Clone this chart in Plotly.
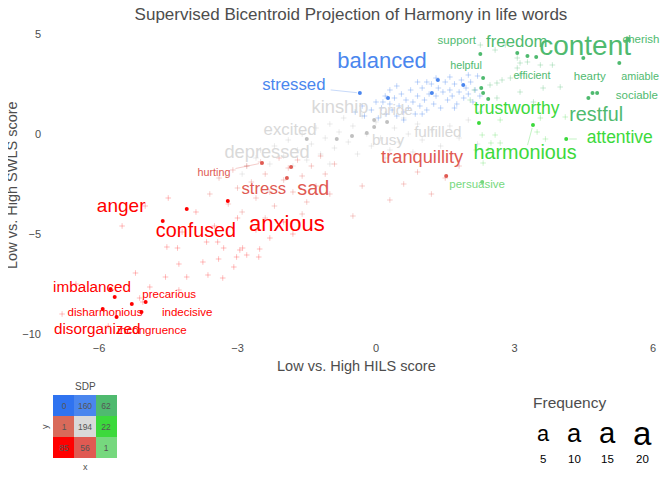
import math
import plotly.graph_objects as go

TITLE = "Supervised Bicentroid Projection of Harmony in life words"
X_TITLE = "Low vs. High HILS score"
Y_TITLE = "Low vs. High SWLS score"
x_ticks = [-6, -3, 0, 3, 6]
y_ticks = [-10, -5, 0, 5]

# ---------------- background (unlabelled) words by SDP cell ----------------
blue_x = [-0.45, -0.3, -0.25, -0.1, 0.0, 0.05, 0.12, 0.2, 0.22, 0.3, 0.35, 0.4, 0.45, 0.5, 0.55, 0.6, 0.65, 0.7,
          0.75, 0.8, 0.85, 0.9, 0.95, 1.0, 1.05, 1.1, 1.15, 1.2, 1.25, 1.3, 1.35, 1.4, 1.45, 1.5, 1.55, 1.6, 1.65,
          1.7, 1.75, 1.8, 1.85, 1.9, 1.95, 2.0, 2.05, 2.1, 2.15, 2.2, 2.25, 0.3, 0.9, 1.3, 0.6, 1.0, 1.7, 2.0,
          0.15, 0.45, 1.1, 1.6]
blue_y = [1.1, 1.4, 0.9, 1.2, 1.6, 0.8, 1.3, 1.9, 1.0, 1.5, 1.2, 1.8, 0.9, 1.4, 2.0, 1.1, 1.7, 1.3, 2.2, 1.6, 1.0,
          1.9, 1.4, 2.3, 1.7, 1.2, 2.0, 2.5, 1.5, 1.9, 2.3, 1.3, 2.1, 2.6, 1.7, 2.2, 1.9, 2.5, 1.5, 2.1, 2.7, 1.8,
          2.3, 2.0, 2.6, 1.6, 2.2, 2.9, 1.9, 2.2, 2.6, 2.8, 0.7, 1.0, 1.3, 2.95, 1.6, 2.4, 2.6, 2.85]

gray_x = [-2.8, -2.6, -2.5, -2.3, -2.2, -2.0, -1.9, -1.8, -1.7, -1.6, -1.5, -1.4, -1.3, -1.2, -1.1, -1.0, -0.9,
          -0.8, -0.7, -0.6, -0.5, -0.4, -0.3, -0.2, -0.1, 0.0, 0.1, 0.2, 0.3, 0.4, 0.5, 0.6, 0.7, 0.8, 0.9, 1.0,
          1.2, 1.4, 1.6, 1.8, 2.0, 2.2, -2.9, -1.0, 0.2]
gray_y = [-1.6, -1.2, -0.8, -1.5, -0.6, -1.1, -0.3, -1.6, -0.8, 0.0, -1.3, -0.5, 0.3, -1.0, -0.2, 0.5, -0.7, 0.1,
          0.8, -0.4, 0.4, -1.0, 0.9, 0.0, -0.6, 0.6, -0.2, 1.0, -0.8, 0.3, -0.4, 0.8, 0.0, -0.9, 0.5, -0.3, 0.2,
          -0.6, 0.4, -0.2, 0.7, -0.5, -2.0, -1.5, -1.2]

salmon_x = [-3.6, -3.4, -3.2, -3.1, -3.0, -2.9, -2.8, -2.7, -2.6, -2.5, -2.4, -2.3, -2.2, -2.1, -2.0, -1.9, -1.8,
            -1.7, -1.6, -1.5, -1.4, -1.3, -1.2, -1.1, -1.0, -0.9, -1.6, -2.4, 0.6, 0.9, 1.2, 1.5, 1.8, 0.3, -0.3,
            -0.5]
salmon_y = [-3.0, -2.2, -3.5, -1.8, -2.7, -3.9, -1.6, -2.4, -3.2, -1.4, -2.0, -2.9, -3.6, -1.2, -2.3, -1.7, -2.9,
            -1.3, -2.1, -3.4, -1.6, -2.6, -1.1, -2.0, -3.0, -1.5, -4.0, -4.2, -2.5, -1.9, -3.0, -2.2, -1.6, -3.3,
            -2.6, -4.1]

red_x = [-4.53, -4.30, -3.67, -3.43, -3.30, -2.95, -2.89, -2.80, -2.52, -2.54, -3.02, -3.41, -3.75, -4.27, -3.08,
         -5.21, -4.56, -4.10, -3.64, -3.32, -4.90, -4.27, -5.12, -5.05, -5.0, -4.5, -3.9, -3.5, -3.0, -2.6, -2.3,
         -4.2, -5.5, -1.8, -2.0, -6.5, -6.8, -5.8]
red_y = [-5.65, -5.7, -5.4, -5.4, -5.7, -5.8, -5.7, -6.05, -5.75, -6.15, -6.15, -6.25, -6.4, -6.5, -6.65, -6.95,
         -7.15, -7.15, -7.05, -7.2, -7.65, -7.8, -8.2, -8.4, -3.6, -3.2, -3.9, -4.6, -4.2, -4.8, -5.2, -4.9, -4.6,
         -5.0, -4.4, -7.5, -9.0, -9.6]

green_x = [3.06, 3.12, 3.28, 3.06, 3.56, 3.82, 2.73, 2.91, 3.12, 2.62, 2.47, 3.12, 3.62, 3.99, 2.62, 3.41, 2.26,
           2.58, 2.8, 2.04, 2.13]
green_y = [3.8, 3.55, 3.6, 3.3, 3.45, 3.45, 2.7, 2.8, 2.95, 2.55, 2.45, 2.1, 2.3, 2.35, 1.8, 1.6, 4.45, 4.2, 4.45,
           1.7, 2.2]

lime_x = [2.26, 2.69, 2.30, 2.58, 3.56, 3.49, 4.10, 2.49, 2.69, 3.67, 2.43, 2.32, 2.17]
lime_y = [1.1, 0.7, -0.05, -0.05, 0.8, 0.1, 0.85, -0.45, -0.45, -0.25, -0.8, -1.45, -0.8]

# ---------------- highlighted words ----------------
words = ["balanced", "stressed",
         "kinship", "pride", "excited", "fulfilled", "busy", "depressed",
         "tranquillity", "hurting", "stress", "sad",
         "anger", "confused", "anxious", "imbalanced", "precarious", "disharmonious", "indecisive",
         "disorganized", "incongruence",
         "support", "freedom", "content", "cherish", "helpful", "efficient", "hearty", "amiable", "sociable",
         "restful",
         "trustworthy", "attentive", "harmonious",
         "persuasive"]
word_group = ["tm", "tm",
              "cc", "cc", "cc", "cc", "cc", "cc",
              "bm", "bm", "bm", "bm",
              "bl", "bl", "bl", "bl", "bl", "bl", "bl", "bl", "bl",
              "tr", "tr", "tr", "tr", "tr", "tr", "tr", "tr", "tr", "tr",
              "mr", "mr", "mr",
              "br"]
word_x = [1.34, -0.35,
          -0.04, 0.24, -1.5, -0.04, -0.2, -0.85,
          1.52, -2.47, -1.93, -1.84,
          -4.1, -4.62, -3.21, -5.75, -4.99, -5.92, -5.08, -5.62, -5.29,
          2.26, 3.06, 3.47, 5.47, 2.32, 2.28, 4.69, 4.79, 4.6, 4.49,
          2.23, 4.12, 3.4,
          2.3]
word_y = [2.7, 2.05,
          0.7, 0.6, -0.25, 0.35, 0.05, -0.25,
          -2.1, -1.45, -2.2, -1.65,
          -3.75, -4.35, -3.35, -7.75, -8.4, -8.75, -8.9, -9.15, -8.5,
          4.0, 4.05, 3.85, 4.75, 2.8, 2.3, 2.05, 2.05, 1.8, 3.8,
          0.55, -0.25, 0.45,
          -2.4]
label_x = [0.13, -1.78,
           -0.78, 0.43, -1.86, 1.34, 0.26, -2.36,
           1.0, -3.51, -2.43, -1.36,
           -5.52, -3.9, -1.93, -6.15, -4.48, -5.87, -4.09, -6.04, -4.85,
           1.75, 3.05, 4.53, 5.74, 1.95, 3.38, 4.63, 5.72, 5.65, 4.77,
           3.05, 5.28, 3.23,
           2.19]
label_y = [3.6, 2.4,
           1.3, 1.15, 0.15, 0.05, -0.35, -0.95,
           -1.2, -1.95, -2.8, -2.8,
           -3.65, -4.9, -4.55, -7.7, -8.05, -8.95, -8.95, -9.8, -9.85,
           4.65, 4.55, 4.3, 4.7, 3.4, 2.9, 2.85, 2.85, 1.9, 0.9,
           1.2, -0.25, -1.0,
           -2.55]
word_freq = [16, 9,
             11, 7, 9, 7, 7, 11,
             11, 1, 9, 13,
             12, 13, 16, 7, 2, 2, 2, 7, 2,
             2, 9, 24, 2, 1, 1, 2, 1, 2, 13,
             10, 10, 13,
             2]
extra_x = [1.21, 1.89, 0.26, -0.52, -5.66, 3.28, 5.27, 2.43, 2.32]
extra_y = [2.05, 2.45, 1.8, -0.1, -8.15, 3.9, 3.55, 1.75, 2.05]
extra_group = ["tm", "tm", "tm", "cc", "bl", "tr", "tr", "tr", "tr"]
segment_words = ["stressed", "hurting", "attentive", "harmonious"]

# SDP cell counts, rows from low y to high y, columns low x to high x
sdp_counts = [[85, 56, 1], [1, 194, 22], [0, 160, 62]]
freq_legend = [5, 10, 15, 20]

# ---------------- styling ----------------
FONT = "Liberation Sans, Arial, sans-serif"
GREY = "#4d4d4d"
group_color = {"tl": "#2f73f0", "tm": "#4a86ee", "tr": "#4fba6f",
               "ml": "#d96a5a", "cc": "#d9d9d9", "mr": "#3cd93c",
               "bl": "#ff0000", "bm": "#e05a52", "br": "#76d87e"}
sdp_cells = [["bl", "bm", "br"], ["ml", "cc", "mr"], ["tl", "tm", "tr"]]

# page has an 8px body margin; the figure is offset accordingly
OFF = 8
W, H = 672 - OFF, 480 - OFF

X0, X1 = -7.235, 6.195
Y0, Y1 = -10.3, 5.3
PX_L, PX_R, PX_T, PX_B = 42, 662, 28, 340
SX = (PX_R - PX_L) / (X1 - X0)
SY = (PX_B - PX_T) / (Y1 - Y0)


def fsize(f):
    return 10 + 0.75 * f


def px(x):
    return (x - OFF) / W


def py(y):
    return 1 - (y - OFF) / H


fig = go.Figure()

bg_sets = [(gray_x, gray_y, "rgba(190,190,190,0.30)"),
           (blue_x, blue_y, "rgba(74,134,238,0.35)"),
           (salmon_x, salmon_y, "rgba(224,90,82,0.30)"),
           (red_x, red_y, "rgba(255,0,0,0.25)"),
           (green_x, green_y, "rgba(79,186,111,0.30)"),
           (lime_x, lime_y, "rgba(60,217,60,0.25)")]
for bx, by, col in bg_sets:
    fig.add_trace(go.Scatter(x=bx, y=by, mode="markers", hoverinfo="skip",
                             marker=dict(symbol="cross-thin", size=4, line=dict(width=1, color=col))))

# segments
for w in segment_words:
    i = words.index(w)
    lx, ly, dx, dy = label_x[i], label_y[i], word_x[i], word_y[i]
    vx, vy = (dx - lx) * SX, (dy - ly) * SY
    s = fsize(word_freq[i])
    hw = 0.26 * s * len(w) + 2
    hh = 0.45 * s
    t = min(hw / abs(vx) if vx else 1e9, hh / abs(vy) if vy else 1e9)
    L = math.hypot(vx, vy)
    f = 1 - 3 / L
    col = group_color[word_group[i]]
    fig.add_trace(go.Scatter(x=[lx + vx * t / SX, lx + vx * f / SX], y=[ly + vy * t / SY, ly + vy * f / SY],
                             mode="lines", hoverinfo="skip", opacity=0.3,
                             line=dict(color=col, width=1)))

# dots
for g in ["cc", "tm", "bm", "bl", "tr", "mr", "br"]:
    idx = [i for i in range(len(words)) if word_group[i] == g]
    eidx = [i for i in range(len(extra_x)) if extra_group[i] == g]
    xs = [word_x[i] for i in idx] + [extra_x[i] for i in eidx]
    ys = [word_y[i] for i in idx] + [extra_y[i] for i in eidx]
    dcol = "#c0c0c0" if g == "cc" else group_color[g]
    fig.add_trace(go.Scatter(x=xs, y=ys, mode="markers", hoverinfo="skip",
                             marker=dict(size=4, color=dcol)))

# labels
for g in ["cc", "tm", "bm", "bl", "tr", "mr", "br"]:
    idx = [i for i in range(len(words)) if word_group[i] == g]
    fig.add_trace(go.Scatter(x=[label_x[i] for i in idx], y=[label_y[i] for i in idx],
                             text=[words[i] for i in idx], mode="text", hoverinfo="skip",
                             textposition="middle center", cliponaxis=False,
                             textfont=dict(family=FONT, color=group_color[g],
                                           size=[fsize(word_freq[i]) for i in idx])))

# SDP inset heatmap
z = [[r * 3 + c for c in range(3)] for r in range(3)]
flat_cols = [group_color[sdp_cells[r][c]] for r in range(3) for c in range(3)]
cscale = []
for k, col in enumerate(flat_cols):
    cscale.append([k / 9, col])
    cscale.append([(k + 1) / 9, col])
fig.add_trace(go.Heatmap(z=z, x=[0, 1, 2], y=[0, 1, 2], colorscale=cscale, zmin=-0.5, zmax=8.5,
                         showscale=False, text=sdp_counts, texttemplate="%{text}",
                         textfont=dict(family=FONT, size=8.5, color="#555555"),
                         hoverinfo="skip", xaxis="x2", yaxis="y2"))

axis_common = dict(showgrid=False, zeroline=False, showline=False, ticks="",
                   tickfont=dict(family=FONT, size=11, color=GREY))
fig.update_layout(
    width=W, height=H, margin=dict(l=0, r=0, t=0, b=0),
    paper_bgcolor="white", plot_bgcolor="white", showlegend=False,
    font=dict(family=FONT, color=GREY),
    title=dict(text=TITLE, x=px(351), y=py(14), xanchor="center", yanchor="middle",
               xref="container", yref="container", font=dict(family=FONT, size=17, color=GREY)),
    xaxis=dict(domain=[px(PX_L), px(PX_R)], range=[X0, X1], tickvals=x_ticks, anchor="y", **axis_common),
    yaxis=dict(domain=[py(PX_B), py(PX_T)], range=[Y0, Y1], tickvals=y_ticks, anchor="x", **axis_common),
    xaxis2=dict(domain=[px(53), px(117)], range=[-0.5, 2.5], anchor="y2", visible=False),
    yaxis2=dict(domain=[py(458), py(395)], range=[-0.5, 2.5], anchor="x2", visible=False),
)

ann = []
ann.append(dict(text=X_TITLE, x=px(356), y=py(366), xref="paper", yref="paper", showarrow=False,
                xanchor="center", yanchor="middle", font=dict(size=14.5, color=GREY)))
ann.append(dict(text=Y_TITLE, x=px(12), y=py(185), xref="paper", yref="paper", showarrow=False, textangle=-90,
                xanchor="center", yanchor="middle", font=dict(size=14.5, color=GREY)))
ann.append(dict(text="SDP", x=px(85), y=py(386), xref="paper", yref="paper", showarrow=False,
                xanchor="center", yanchor="middle", font=dict(size=10, color=GREY)))
ann.append(dict(text="x", x=px(85), y=py(467), xref="paper", yref="paper", showarrow=False,
                xanchor="center", yanchor="middle", font=dict(size=9, color=GREY)))
ann.append(dict(text="y", x=px(45), y=py(427), xref="paper", yref="paper", showarrow=False, textangle=-90,
                xanchor="center", yanchor="middle", font=dict(size=9, color=GREY)))
ann.append(dict(text="Frequency", x=px(569), y=py(402), xref="paper", yref="paper", showarrow=False,
                xanchor="center", yanchor="middle", font=dict(size=15.5, color=GREY)))
leg_x = [543, 574, 607, 642]
for v, lx in zip(freq_legend, leg_x):
    ann.append(dict(text="a", x=px(lx), y=py(433), xref="paper", yref="paper", showarrow=False,
                    xanchor="center", yanchor="middle", font=dict(size=18 + 0.75 * v, color="black")))
    ann.append(dict(text=str(v), x=px(lx), y=py(459), xref="paper", yref="paper", showarrow=False,
                    xanchor="center", yanchor="middle", font=dict(size=11.5, color="black")))
fig.update_layout(annotations=ann)

fig.write_html("out.html")
